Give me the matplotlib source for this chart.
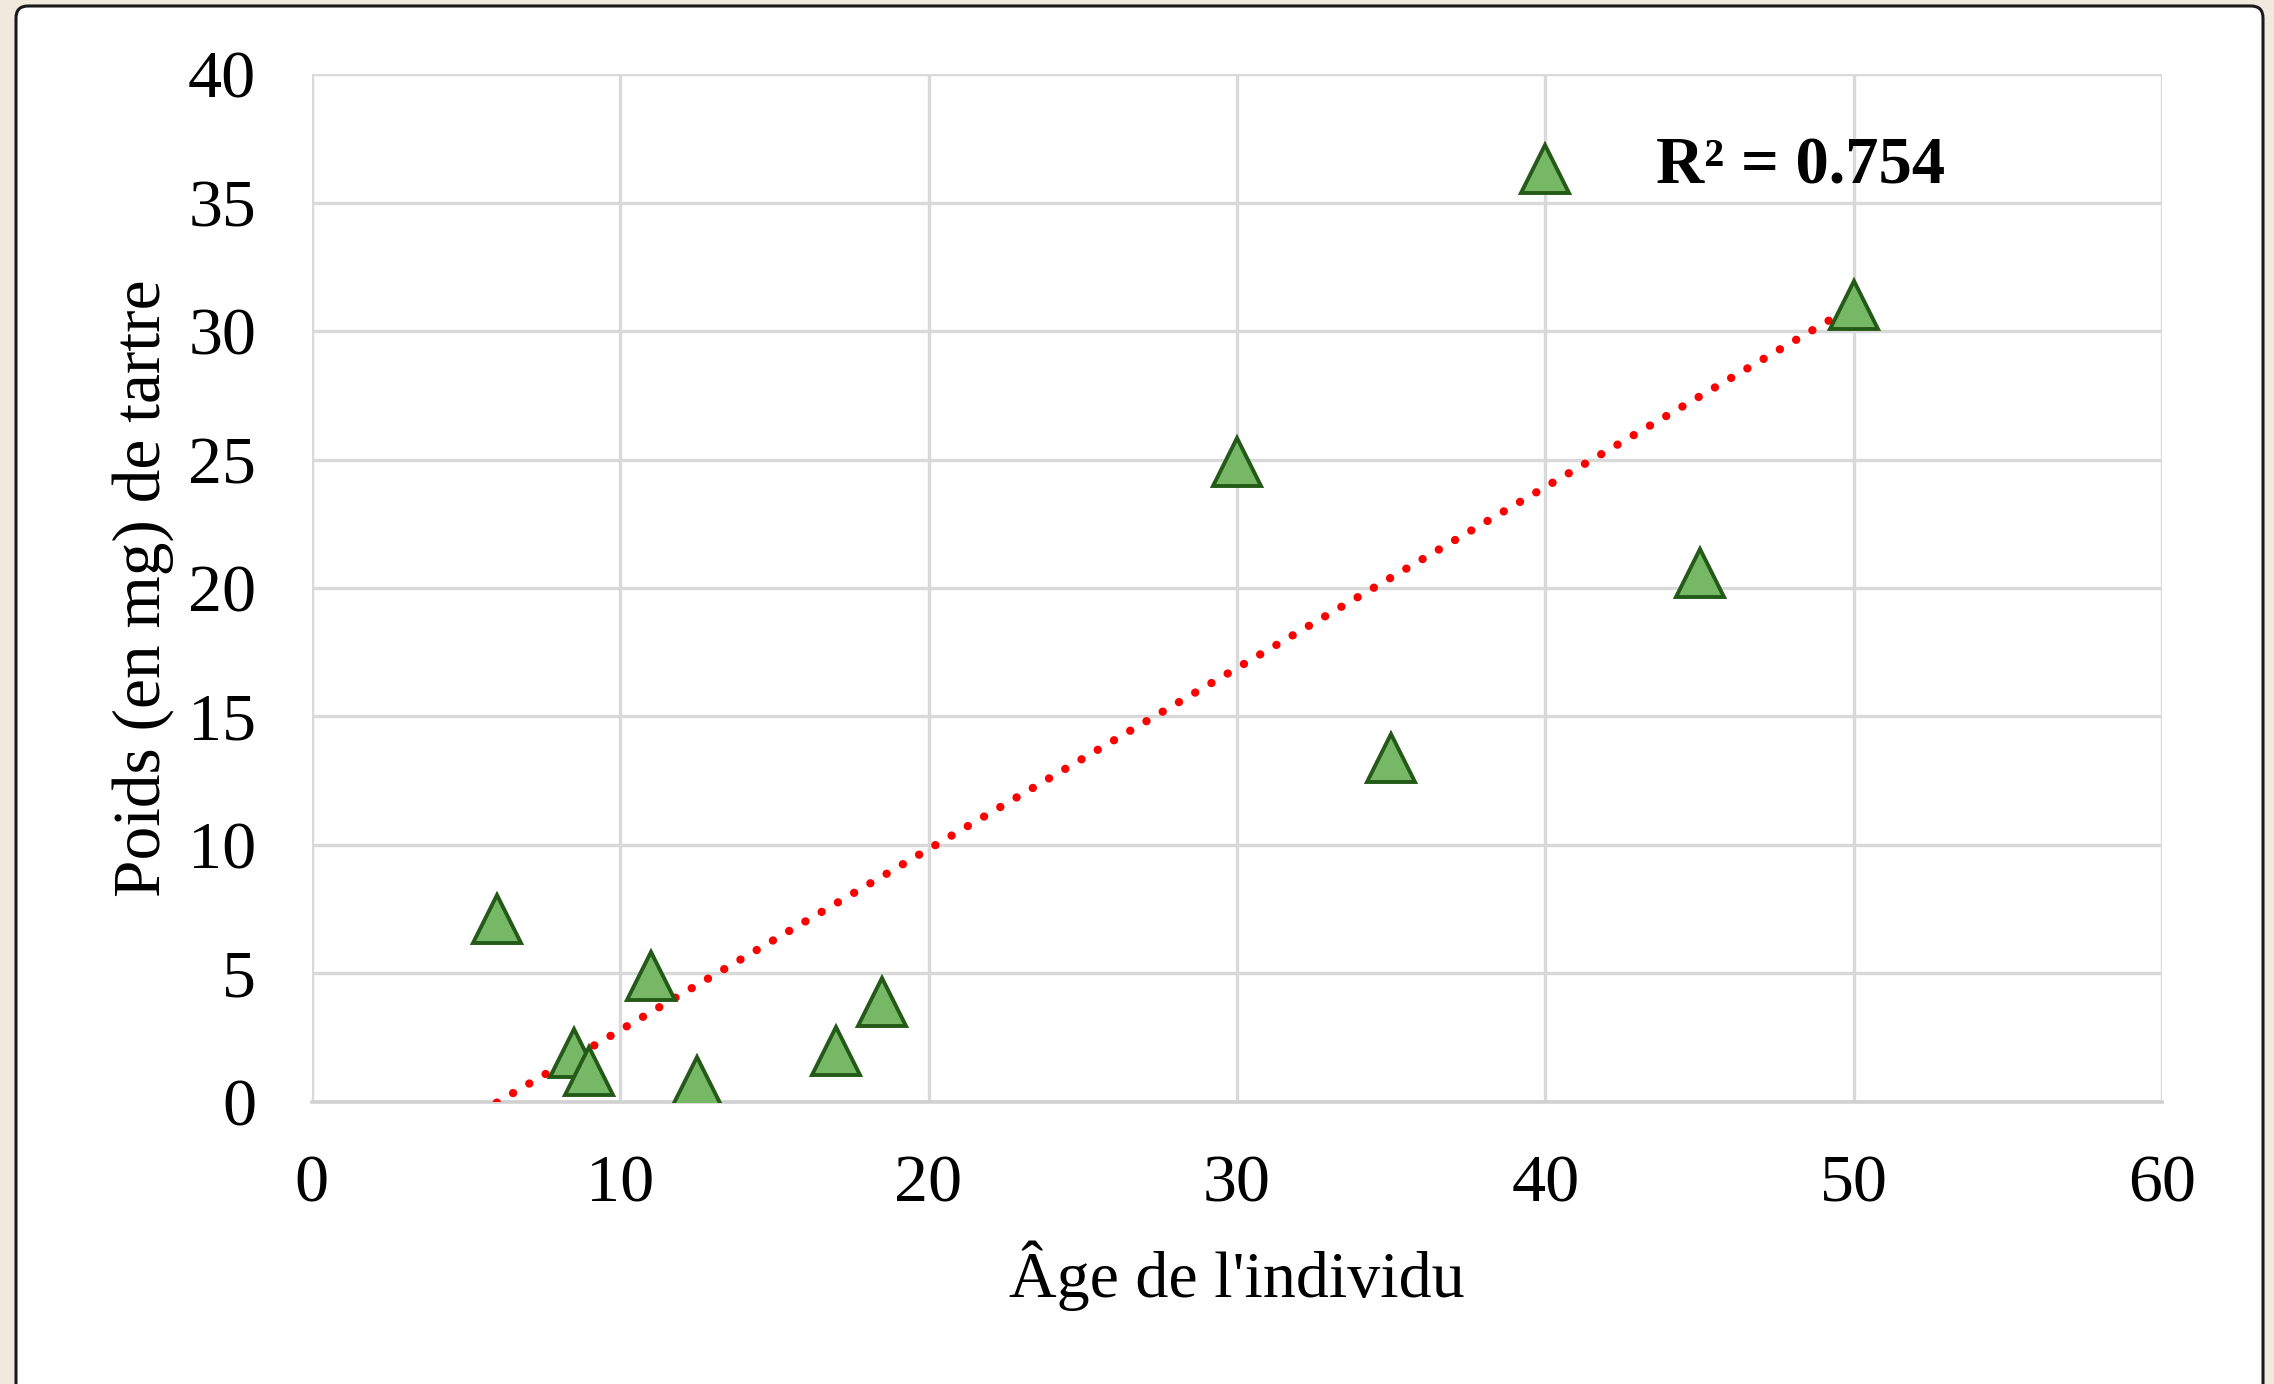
import numpy as np
import matplotlib.pyplot as plt
from matplotlib.patches import FancyBboxPatch

# Age and tartar weight per individual
age = [6, 8.5, 9, 11, 12.5, 17, 18.5, 30, 35, 40, 45, 50]
poids = [7.1, 1.9, 1.2, 4.9, 0.8, 2.0, 3.9, 24.9, 13.4, 36.3, 20.6, 31.0]
r2_label = "R² = 0.754"

x_ticks = [0, 10, 20, 30, 40, 50, 60]
y_ticks = [0, 5, 10, 15, 20, 25, 30, 35, 40]

plt.rcParams['font.family'] = ['Liberation Serif', 'DejaVu Serif']

fig = plt.figure(figsize=(22.74, 13.84), dpi=100)
fig.patch.set_facecolor('#EFE9DE')

# white card with rounded corners behind the chart
card = FancyBboxPatch((0.16, -0.3), 22.47, 14.08, boxstyle="round,pad=0,rounding_size=0.12",
                      transform=fig.dpi_scale_trans, facecolor='white', edgecolor='#1a1a1a',
                      linewidth=2.2, zorder=-5)
fig.patches.append(card)

ax = fig.add_axes([0.1371, 0.2038, 0.8137, 0.7427])
ax.set_facecolor('white')

# linear trendline over the data range
coef = np.polyfit(age, poids, 1)
xs = np.array([min(age), max(age)])
ax.plot(xs, np.polyval(coef, xs), color='#FF0000', linewidth=6.0,
        linestyle=(0, (0.01, 2.25)), dash_capstyle='round', zorder=3)

ax.plot(age, poids, linestyle='none', marker='^', markersize=35,
        markerfacecolor='#76B865', markeredgecolor='#245A17', markeredgewidth=2.8, zorder=4)

ax.text(43.6, 36.4, r2_label, fontsize=48, fontweight='bold', ha='left', va='center')

ax.set_xlim(0, 60)
ax.set_ylim(0, 40)
ax.set_xticks(x_ticks)
ax.set_yticks(y_ticks)
ax.grid(True, color='#D9D9D9', linewidth=2.4, zorder=1)
ax.set_axisbelow(True)
for s in ['top', 'right', 'left']:
    ax.spines[s].set_visible(False)
ax.spines['bottom'].set_color('#D0D0D0')
ax.spines['bottom'].set_linewidth(2.6)
ax.tick_params(length=0, labelsize=49, colors='black')
ax.tick_params(axis='x', pad=38)
ax.tick_params(axis='y', pad=40)

ax.set_xlabel("Âge de l'individu", fontsize=47.5, labelpad=18)
ax.set_ylabel("Poids (en mg) de tartre", fontsize=48.5, labelpad=10)

fig.savefig("out.png", dpi=100, facecolor=fig.get_facecolor())
